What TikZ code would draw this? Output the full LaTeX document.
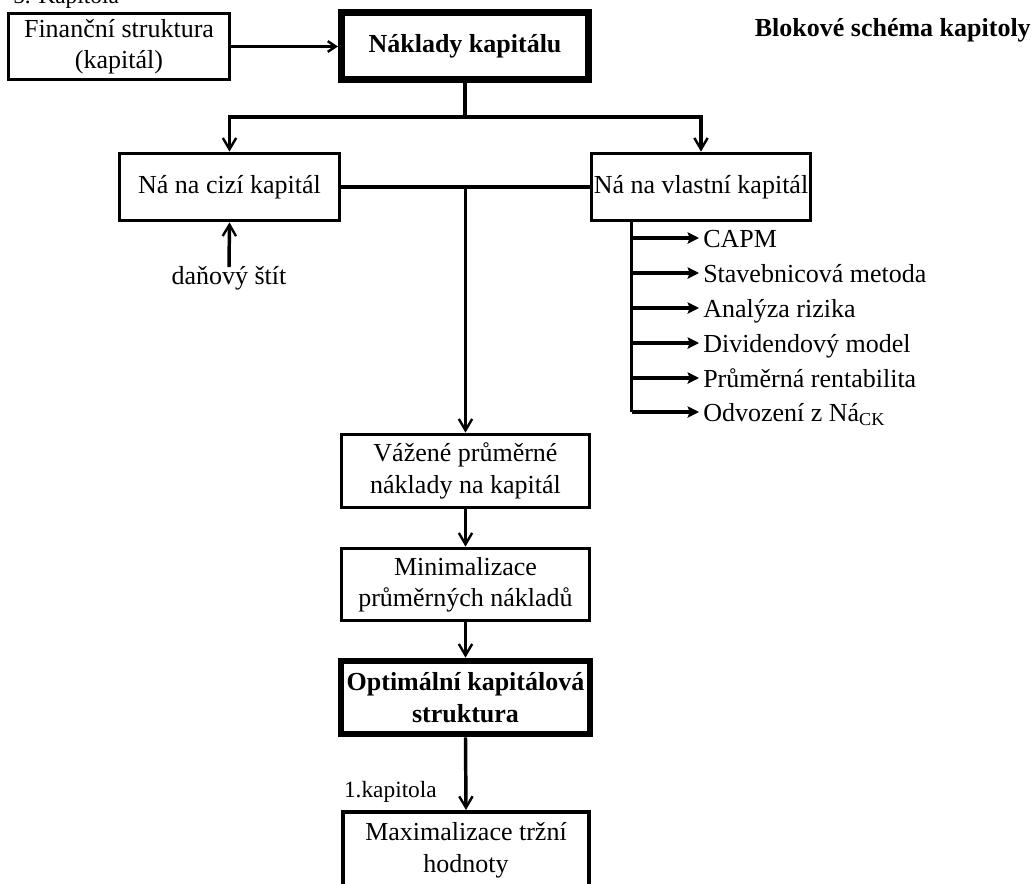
\documentclass[tikz,border=0pt]{standalone}
\usepackage{fontspec}
\setmainfont{Liberation Serif}
\usetikzlibrary{arrows.meta}
\newcommand{\mainsize}{\fontsize{19.5pt}{23.5pt}\selectfont}
\newcommand{\smallsize}{\fontsize{17.5pt}{21pt}\selectfont}
\begin{document}
\begin{tikzpicture}[x=0.75pt,y=-0.75pt,
  every node/.style={font=\mainsize},
  box/.style={draw, line width=2.8pt, inner sep=0pt, align=center},
  boldbox/.style={box, line width=5pt, font=\mainsize\bfseries},
  link/.style={line width=2.6pt},
  arr/.style={link, -{Straight Barb[length=8.5pt,width=10pt,line width=1.8pt]}},
  sidearr/.style={link, -{Straight Barb[length=6pt,width=8pt,line width=1.8pt]}},
  branch/.style={line width=2.6pt, -{Stealth[length=8.5pt,width=8.5pt,inset=1.5pt]}},
  item/.style={anchor=west, inner xsep=3pt, inner ysep=0pt, text height=14.2pt, text depth=0pt},
  small/.style={font=\smallsize}
]
\useasboundingbox (0,0) rectangle (1033,883);
\clip (0,0) rectangle (1033,883);

% headings
\node[small, anchor=base west, inner sep=0pt] (chap) at (13,3.5) {5. Kapitola};
\node[font=\mainsize\bfseries, anchor=base east, inner sep=0pt] (title) at (1031,36) {Blokové schéma kapitoly};

% top row
\node[box, minimum width=165.75pt, minimum height=49.5pt] (fin) at (119,46.5) {Finanční struktura\\(kapitál)};
\node[boldbox, minimum width=185.6pt, minimum height=50.6pt] (nk) at (465,46) {Náklady kapitálu};
\draw[sidearr] (fin.east) -- (fin.east -| nk.west);

% cost of debt / cost of equity
\node[box, minimum width=165pt, minimum height=50.25pt] (cizi) at (229.5,187) {Ná na cizí kapitál};
\node[box, minimum width=164.25pt, minimum height=50.25pt] (vlast) at (701,187) {Ná na vlastní kapitál};
\draw[link] (nk.south) -- ++(0,34) coordinate (split);
\draw[arr] (split) -| (cizi.north);
\draw[arr] (split) -| (vlast.north);

\node[inner sep=2pt] (dan) at (229,278) {daňový štít};
\draw[arr] ([yshift=-3pt]dan.north) -- (cizi.south);

% methods for the cost of equity
\coordinate (rtop) at ([xshift=31.5pt]vlast.south west);
\node[item] (capm) at (699,238) {CAPM};
\node[item] (stav) at (699,273) {Stavebnicová metoda};
\node[item] (riz)  at (699,308) {Analýza rizika};
\node[item] (div)  at (699,343) {Dividendový model};
\node[item] (rent) at (699,378) {Průměrná rentabilita};
\node[item] (odv)  at (699,412) {Odvození z Ná\textsubscript{CK}};
\draw[line width=1.8pt] (rtop) -- (rtop |- odv.west);
\foreach \m in {capm,stav,riz,div,rent,odv}
  \draw[branch] (rtop |- \m.west) -- (\m.west);

% main chain
\node[box, minimum width=186pt, minimum height=54.75pt] (vaz) at (465.5,471) {Vážené průměrné\\náklady na kapitál};
\node[box, minimum width=186pt, minimum height=54pt] (min) at (465.5,584.5) {Minimalizace\\průměrných nákladů};
\node[boldbox, minimum width=186.75pt, minimum height=54.75pt] (opt) at (465.5,697.5) {Optimální kapitálová\\struktura};
\node[box, anchor=north, minimum width=184.5pt, inner ysep=8.25pt, text depth=37.5pt] (max) at (466,810) {Maximalizace tržní\\hodnoty};

\draw[link] (cizi.east) -- (vlast.west);
\draw[arr] (cizi.east -| vaz.north) -- (vaz.north);
\draw[arr] (vaz.south) -- (min.north);
\draw[arr] (min.south) -- (opt.north);
\draw[arr] (opt.south) -- (max.north);
\node[small, anchor=base east, inner sep=0pt] (kap) at (437,797) {1.kapitola};
\end{tikzpicture}
\end{document}
